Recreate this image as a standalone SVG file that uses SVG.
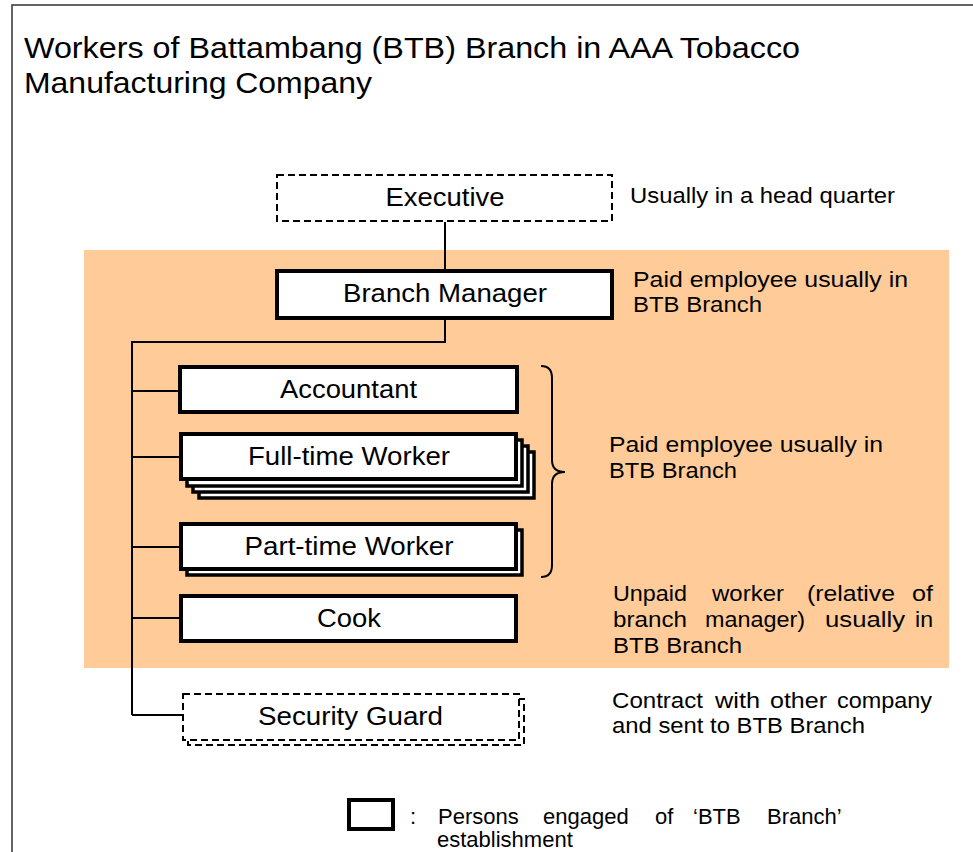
<svg xmlns="http://www.w3.org/2000/svg" width="973" height="852" viewBox="0 0 973 852">
<style>
text{font-family:"Liberation Sans",Arial,sans-serif;fill:#000}
.t{font-size:29px}
.lb{font-size:25.5px;text-anchor:middle}
.an{font-size:22px}
.box{fill:#fff;stroke:#000;stroke-width:4}
.sbox{fill:#fff;stroke:#000;stroke-width:3.5}
.dash{fill:#fff;stroke:#000;stroke-width:2;stroke-dasharray:7 4}
.con{fill:none;stroke:#000;stroke-width:2}
</style>
<rect x="0" y="0" width="973" height="852" fill="#fff"/>
<rect id="frame" x="12" y="5" width="975" height="900" fill="none" stroke="#333" stroke-width="1.5"/>
<rect id="branch-area" x="84" y="250" width="865" height="418" fill="#FFCC99"/>
<g id="title">
<text class="t" x="24" y="58" textLength="776" lengthAdjust="spacingAndGlyphs">Workers of Battambang (BTB) Branch in AAA Tobacco</text>
<text class="t" x="24" y="93" textLength="348" lengthAdjust="spacingAndGlyphs">Manufacturing Company</text>
</g>
<g id="connectors">
<line class="con" x1="445" y1="222" x2="445" y2="271"/>
<polyline class="con" points="445,320 445,342 132,342 132,715"/>
<line class="con" x1="132" y1="391" x2="181" y2="391"/>
<line class="con" x1="132" y1="457" x2="181" y2="457"/>
<line class="con" x1="132" y1="547" x2="181" y2="547"/>
<line class="con" x1="132" y1="618" x2="181" y2="618"/>
<line class="con" x1="132" y1="715" x2="183" y2="715"/>
</g>
<g id="executive">
<rect class="dash" x="277" y="175" width="335" height="46"/>
<text class="lb" x="445" y="206" textLength="119" lengthAdjust="spacingAndGlyphs">Executive</text>
</g>
<g id="branch-manager">
<rect class="box" x="277" y="271" width="335" height="47"/>
<text class="lb" x="445" y="302" textLength="204" lengthAdjust="spacingAndGlyphs">Branch Manager</text>
</g>
<g id="accountant">
<rect class="box" x="180" y="367" width="337" height="45"/>
<text class="lb" x="348.5" y="398" textLength="137" lengthAdjust="spacingAndGlyphs">Accountant</text>
</g>
<g id="full-time-worker">
<rect class="sbox" x="199" y="452" width="335" height="46"/>
<rect class="sbox" x="193" y="446" width="335" height="46"/>
<rect class="sbox" x="187" y="440" width="335" height="46"/>
<rect class="box" x="181" y="434" width="335" height="45"/>
<text class="lb" x="349" y="465" textLength="202" lengthAdjust="spacingAndGlyphs">Full-time Worker</text>
</g>
<g id="part-time-worker">
<rect class="sbox" x="187" y="530" width="335" height="45"/>
<rect class="box" x="181" y="524" width="335" height="45"/>
<text class="lb" x="349" y="555" textLength="209" lengthAdjust="spacingAndGlyphs">Part-time Worker</text>
</g>
<g id="cook">
<rect class="box" x="181" y="596" width="335" height="45"/>
<text class="lb" x="349" y="627" textLength="64" lengthAdjust="spacingAndGlyphs">Cook</text>
</g>
<g id="security-guard">
<rect class="dash" x="188" y="699" width="336" height="46"/>
<rect class="dash" x="183" y="694" width="336" height="46"/>
<text class="lb" x="350.5" y="725" textLength="185" lengthAdjust="spacingAndGlyphs">Security Guard</text>
</g>
<g id="brace">
<path class="con" d="M541,366 Q552,366 552,378 L552,460 Q552,472 565,472 Q552,472 552,484 L552,565 Q552,577 541,577"/>
</g>
<g id="annotations">
<text class="an" x="630" y="203" textLength="265" lengthAdjust="spacingAndGlyphs">Usually in a head quarter</text>
<text class="an" x="633" y="287" textLength="275" lengthAdjust="spacingAndGlyphs">Paid employee usually in</text>
<text class="an" x="633" y="312" textLength="129" lengthAdjust="spacingAndGlyphs">BTB Branch</text>
<text class="an" x="609" y="452" textLength="274" lengthAdjust="spacingAndGlyphs">Paid employee usually in</text>
<text class="an" x="609" y="478" textLength="128" lengthAdjust="spacingAndGlyphs">BTB Branch</text>
<text class="an" y="601"><tspan x="613" textLength="74" lengthAdjust="spacingAndGlyphs">Unpaid</tspan><tspan x="712" textLength="72" lengthAdjust="spacingAndGlyphs">worker</tspan><tspan x="807" textLength="88" lengthAdjust="spacingAndGlyphs">(relative</tspan><tspan x="912" textLength="21" lengthAdjust="spacingAndGlyphs">of</tspan></text>
<text class="an" y="627"><tspan x="613" textLength="74" lengthAdjust="spacingAndGlyphs">branch</tspan><tspan x="705" textLength="100" lengthAdjust="spacingAndGlyphs">manager)</tspan><tspan x="825" textLength="80" lengthAdjust="spacingAndGlyphs">usually</tspan><tspan x="915" textLength="18" lengthAdjust="spacingAndGlyphs">in</tspan></text>
<text class="an" x="613" y="653" textLength="129" lengthAdjust="spacingAndGlyphs">BTB Branch</text>
<text class="an" y="708"><tspan x="612" textLength="91" lengthAdjust="spacingAndGlyphs">Contract</tspan><tspan x="715" textLength="45" lengthAdjust="spacingAndGlyphs">with</tspan><tspan x="770" textLength="57" lengthAdjust="spacingAndGlyphs">other</tspan><tspan x="837" textLength="95" lengthAdjust="spacingAndGlyphs">company</tspan></text>
<text class="an" x="612" y="733" textLength="253" lengthAdjust="spacingAndGlyphs">and sent to BTB Branch</text>
</g>
<g id="legend">
<rect class="box" x="349" y="800" width="44" height="29"/>
<text class="an" x="410" y="824">:</text>
<text class="an" y="824"><tspan x="438">Persons</tspan><tspan x="543">engaged</tspan><tspan x="655">of</tspan><tspan x="693">‘BTB</tspan><tspan x="767">Branch’</tspan></text>
<text class="an" x="437" y="847">establishment</text>
</g>
</svg>
